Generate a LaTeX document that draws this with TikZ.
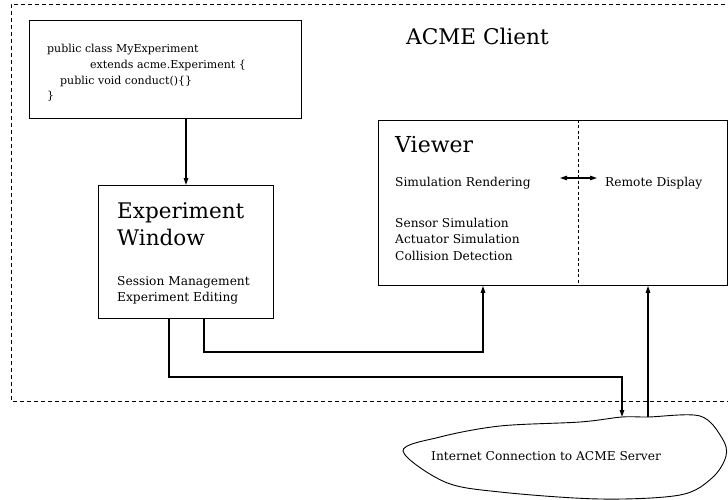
\documentclass[tikz,border=0pt]{standalone}
\usepackage{fontspec}
\setmainfont{DejaVu Serif}
\usetikzlibrary{arrows.meta, calc}
\begin{document}
\begin{tikzpicture}[x=1pt, y=-1pt,
    box/.style={draw, line width=0.9pt, inner sep=0pt, anchor=north west},
    txt/.style={anchor=base west, inner sep=0pt, font=\fontsize{12.2}{14}\selectfont},
    codetxt/.style={anchor=base west, inner sep=0pt, font=\fontsize{11}{13}\selectfont},
    big/.style={anchor=base west, inner sep=0pt, font=\fontsize{21.5}{26}\selectfont},
    wire/.style={line width=1.3pt, -{Triangle[length=7pt, width=4.5pt]}},
    frame/.style={line width=0.8pt, dash pattern=on 4pt off 3pt}]
    \useasboundingbox (0,0) rectangle (728,500);
    % Client frame
    \draw [frame] (732,4) -- (11,4) -- (11,401) -- (732,401);
    \node [big, font=\fontsize{21.6}{26}\selectfont] (client) at (406,45) {ACME Client};
    % Code box
    \node [box, minimum width=272, minimum height=98] (code) at (29,20) {};
    \node [codetxt] (code1) at (47,53) {public class MyExperiment};
    \node [codetxt] (code2) at (90,69) {extends acme.Experiment \{};
    \node [codetxt] (code3) at (60,85) {public void conduct()\{\}};
    \node [codetxt] (code4) at (47,100) {\}};
    % Experiment window
    \node [box, minimum width=175, minimum height=133] (expwin) at (98,185) {};
    \node [big] (exp1) at (117,218) {Experiment};
    \node [big] (exp2) at (117,245) {Window};
    \node [txt] (exp3) at (117,285) {Session Management};
    \node [txt] (exp4) at (117,301) {Experiment Editing};
    % Viewer
    \node [box, minimum width=349, minimum height=165] (viewer) at (378,120) {};
    \draw [line width=0.8pt, dash pattern=on 3pt off 2.5pt] (viewer.north -| 578,0) -- (viewer.south -| 578,0);
    \node [big, font=\fontsize{22}{26}\selectfont] (view1) at (395,153) {Viewer};
    \node [txt] (simren) at (395,186) {Simulation Rendering};
    \node [txt] (remdisp) at (605,186) {Remote Display};
    \node [txt] (view2) at (395,227) {Sensor Simulation};
    \node [txt] (view3) at (395,243) {Actuator Simulation};
    \node [txt] (view4) at (395,260) {Collision Detection};
    \draw [line width=1.1pt, {Triangle[length=7pt, width=4.5pt]}-{Triangle[length=7pt, width=4.5pt]}]
        ($(remdisp.base west)+(-45,-8)$) -- ($(remdisp.base west)+(-8,-8)$);
    % Internet cloud
    \draw [line width=0.9pt] plot [smooth cycle, tension=0.55] coordinates {
        (403,451) (440,437) (500,426) (580,422) (622,417) (648,417) (700,416)
        (722,438) (726,456) (712,478) (680,495) (600,499) (500,492) (445,482)};
    \node [txt] (net) at (431,460) {Internet Connection to ACME Server};
    \coordinate (netA) at (622,417);
    \coordinate (netB) at (648,417);
    % Connections
    \draw [wire] ($(code.south west)+(157,0)$) -- ($(expwin.north west)+(88,0)$);
    \draw [wire] ($(expwin.south west)+(71,0)$) -- ++(0,58) -| (netA);
    \draw [wire] ($(expwin.south west)+(106,0)$) -- ++(0,33) -| ($(viewer.south west)+(105,0)$);
    \draw [wire] (netB) -- ($(viewer.south west)+(270,0)$);
\end{tikzpicture}
\end{document}
